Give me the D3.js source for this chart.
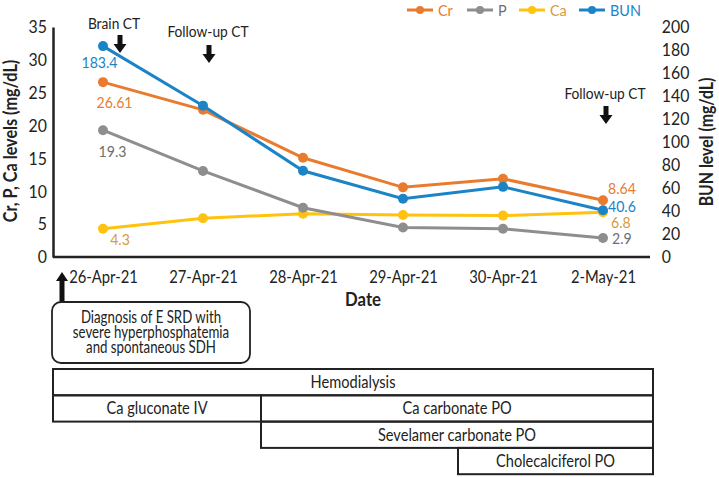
<!DOCTYPE html>
<html><head><meta charset="utf-8">
<script src="https://cdn.jsdelivr.net/npm/d3@7/dist/d3.min.js"></script>
<style>
body{margin:0;background:#fff;}
text{font-family:Lato,"DejaVu Sans Condensed",sans-serif;}
</style></head>
<body><svg id="c" width="719" height="477"></svg>
<script>
const dates = ["26-Apr-21","27-Apr-21","28-Apr-21","29-Apr-21","30-Apr-21","2-May-21"];
const cr  = [26.61, 22.4, 15.1, 10.6, 11.9, 8.64];
const p   = [19.3, 13.1, 7.5, 4.5, 4.3, 2.9];
const ca  = [4.3, 5.9, 6.6, 6.4, 6.3, 6.8];
const bun = [183.4, 131.6, 75, 50.7, 61, 40.6];
const leftTicks = [0,5,10,15,20,25,30,35];
const rightTicks = [0,20,40,60,80,100,120,140,160,180,200];
const treatments = [
  {name:"Hemodialysis", start:-0.5, end:5.5, row:0},
  {name:"Ca gluconate IV", start:-0.5, end:1.58, row:1},
  {name:"Ca carbonate PO", start:1.58, end:5.5, row:1},
  {name:"Sevelamer carbonate PO", start:1.58, end:5.5, row:2},
  {name:"Cholecalciferol PO", start:3.55, end:5.5, row:3}
];
const events = [
  {label:"Brain CT", idx:0.17, tx:0.11, ty:29, a0:35, a1:53},
  {label:"Follow-up CT", idx:1.06, tx:1.05, ty:37, a0:45, a1:63},
  {label:"Follow-up CT", idx:5.03, tx:5.02, ty:99, a0:106, a1:124}
];
const diag = ["Diagnosis of E SRD with","severe hyperphosphatemia","and spontaneous SDH"];

const svg = d3.select("#c");
const K = 0.86; // horizontal condensation to mimic the narrow face
const x = d3.scalePoint().domain(dates).range([53,653]).padding(0.5);
const xi = d3.scaleLinear().domain([0,5]).range([x(dates[0]), x(dates[5])]);
const yL = d3.scaleLinear().domain([0,35]).range([257,27]);
const yR = d3.scaleLinear().domain([0,200]).range([257,27]);

function T(px, py, str, o={}){
  const k = o.k || K;
  return svg.append("text")
    .attr("transform",`translate(${px},${py})${o.rot?` rotate(${o.rot})`:""} scale(${k},1)`)
    .attr("text-anchor",o.anchor||"middle")
    .attr("font-size",o.size||16).attr("font-weight",o.bold?"bold":null)
    .attr("fill",o.fill||"#222").text(str);
}

// axes
const axL = svg.append("g").attr("transform","translate(53,0)")
  .call(d3.axisLeft(yL).tickValues(leftTicks).tickSize(0).tickPadding(7));
axL.select(".domain").attr("stroke","#222").attr("stroke-width",2.5);
axL.selectAll("text").attr("font-size",18).attr("fill","#222").attr("transform","scale(0.88,1)");
const axR = svg.append("g").attr("transform","translate(653,0)")
  .call(d3.axisRight(yR).tickValues(rightTicks).tickSize(0).tickPadding(10));
axR.select(".domain").remove();
axR.selectAll("text").attr("font-size",18).attr("fill","#222").attr("transform","scale(0.88,1)");
const axB = svg.append("g").attr("transform","translate(0,257)")
  .call(d3.axisBottom(x).tickSize(0).tickPadding(14));
axB.select(".domain").attr("stroke","#222").attr("stroke-width",2.5).attr("d","M53,0H650");
axB.selectAll("text").attr("font-size",17).attr("fill","#222").attr("transform","scale(0.87,1)");

T(17,141,"Cr, P, Ca levels (mg/dL)",{rot:-90,size:18,bold:true,k:0.9});
T(713,142,"BUN level (mg/dL)",{rot:-90,size:18,bold:true,k:0.88});
T(363,306,"Date",{size:19,bold:true,k:0.88});

// series
const series = [
  {name:"Cr", vals:cr, y:yL, color:"#E97B2F", text:"#E97B2F"},
  {name:"P", vals:p, y:yL, color:"#8E8E8E", text:"#6e6e6e"},
  {name:"Ca", vals:ca, y:yL, color:"#FFC20E", text:"#D89A3A"},
  {name:"BUN", vals:bun, y:yR, color:"#1A84C7", text:"#1A84C7"}
];
const drawOrder = [series[2], series[1], series[0], series[3]];
drawOrder.forEach(s => {
  const line = d3.line().x((d,i)=>x(dates[i])).y(d=>s.y(d));
  svg.append("path").datum(s.vals).attr("d",line).attr("fill","none")
    .attr("stroke",s.color).attr("stroke-width",3);
  svg.selectAll(null).data(s.vals).enter().append("circle")
    .attr("cx",(d,i)=>x(dates[i])).attr("cy",d=>s.y(d)).attr("r",5).attr("fill",s.color);
});

// data labels (first and last points)
const labels = [
  {s:3, i:0, dx:-3.5, ty:68, anchor:"middle"},
  {s:0, i:0, dx:11.5, ty:108, anchor:"middle"},
  {s:1, i:0, dx:9.5, ty:157, anchor:"middle"},
  {s:2, i:0, dx:17, ty:245, anchor:"middle"},
  {s:0, i:5, dx:5, ty:194, anchor:"start"},
  {s:3, i:5, dx:5, ty:212, anchor:"start"},
  {s:2, i:5, dx:8, ty:228, anchor:"start"},
  {s:1, i:5, dx:9, ty:244, anchor:"start"}
];
labels.forEach(l => {
  const s = series[l.s];
  T(x(dates[l.i])+l.dx, l.ty, String(s.vals[l.i]), {anchor:l.anchor, size:16, fill:s.text, k:0.88});
});

// legend
const legX = [407, 467, 519, 579];
series.forEach((s,k) => {
  const g = svg.append("g").attr("transform",`translate(${legX[k]},10)`);
  g.append("line").attr("x1",0).attr("x2",26).attr("stroke",s.color).attr("stroke-width",3);
  g.append("circle").attr("cx",13).attr("r",4).attr("fill",s.color);
  T(legX[k]+31, 16, s.name, {anchor:"start", size:16, fill:s.text, k:0.9});
});

// event annotations
function downArrow(cx, y0, y1){
  const hw=6.5, sw=2.5, hh=9;
  svg.append("path").attr("fill","#111")
    .attr("d",`M${cx-sw},${y0}H${cx+sw}V${y1-hh}H${cx+hw}L${cx},${y1}L${cx-hw},${y1-hh}H${cx-sw}Z`);
}
events.forEach(e => {
  T(xi(e.tx), e.ty, e.label, {size:16});
  downArrow(xi(e.idx), e.a0, e.a1);
});

// diagnosis arrow and box
(function(){
  const cx=62, y0=272, y1=302, hw=6, sw=2.5, hh=9;
  svg.append("path").attr("fill","#111")
    .attr("d",`M${cx},${y0}L${cx+hw},${y0+hh}H${cx+sw}V${y1}H${cx-sw}V${y0+hh}H${cx-hw}Z`);
})();
svg.append("rect").attr("x",52).attr("y",302).attr("width",198).attr("height",61).attr("rx",9)
  .attr("fill","#fff").attr("stroke","#222").attr("stroke-width",1.8);
diag.forEach((t,k)=>{
  T(151, 322.5+k*15.3, t, {size:17, k:0.78});
});

// treatment table
const rowY = r => 369 + r*26.3;
treatments.forEach(t => {
  svg.append("rect").attr("x",xi(t.start)).attr("y",rowY(t.row))
    .attr("width",xi(t.end)-xi(t.start)).attr("height",26.3)
    .attr("fill","none").attr("stroke","#222").attr("stroke-width",2);
  T((xi(t.start)+xi(t.end))/2, rowY(t.row)+19, t.name, {size:17, k:0.86});
});
</script></body></html>
